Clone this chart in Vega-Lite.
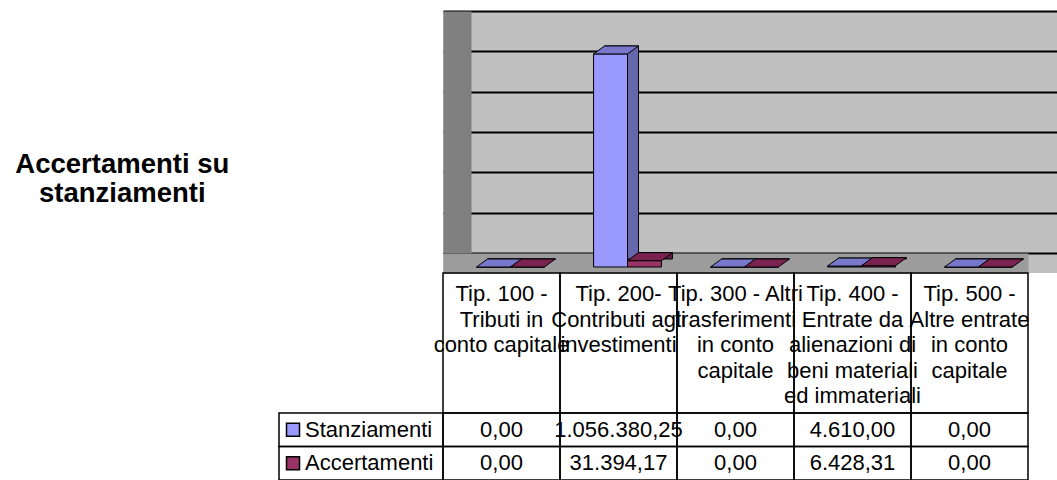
{
  "$schema": "https://vega.github.io/schema/vega-lite/v6.json",
  "width": 614,
  "height": 262,
  "autosize": {"type": "none"},
  "padding": {"left": 443, "top": 11, "right": 0, "bottom": 207},
  "background": "white",
  "config": {
    "locale": {"number": {"decimal": ",", "thousands": ".", "grouping": [3], "currency": ["€", ""]}},
    "view": {"fill": "#C0C0C0", "stroke": null},
    "font": "Liberation Sans"
  },
  "title": {
    "text": ["Accertamenti su", "stanziamenti"],
    "orient": "left",
    "angle": 0,
    "align": "center",
    "baseline": "middle",
    "anchor": "middle",
    "frame": "group",
    "offset": -58,
    "dy": 23,
    "font": "Liberation Sans",
    "fontSize": 27.5,
    "fontWeight": "bold",
    "lineHeight": 29,
    "color": "black"
  },
  "datasets": {
    "bars": [
      {"tip": "Tip. 100 - Tributi in conto capitale", "serie": "Stanziamenti", "valore": 0},
      {"tip": "Tip. 100 - Tributi in conto capitale", "serie": "Accertamenti", "valore": 0},
      {"tip": "Tip. 200- Contributi agli investimenti", "serie": "Stanziamenti", "valore": 1056380.25},
      {"tip": "Tip. 200- Contributi agli investimenti", "serie": "Accertamenti", "valore": 31394.17},
      {"tip": "Tip. 300 - Altri trasferimenti in conto capitale", "serie": "Stanziamenti", "valore": 0},
      {"tip": "Tip. 300 - Altri trasferimenti in conto capitale", "serie": "Accertamenti", "valore": 0},
      {"tip": "Tip. 400 - Entrate da alienazioni di beni materiali ed immateriali", "serie": "Stanziamenti", "valore": 4610.00},
      {"tip": "Tip. 400 - Entrate da alienazioni di beni materiali ed immateriali", "serie": "Accertamenti", "valore": 6428.31},
      {"tip": "Tip. 500 - Altre entrate in conto capitale", "serie": "Stanziamenti", "valore": 0},
      {"tip": "Tip. 500 - Altre entrate in conto capitale", "serie": "Accertamenti", "valore": 0}
    ],
    "header": [
      {"tip": "Tip. 100 - Tributi in conto capitale", "etichetta": "Tip. 100 -\nTributi in\nconto capitale"},
      {"tip": "Tip. 200- Contributi agli investimenti", "etichetta": "Tip. 200-\nContributi agli\ninvestimenti"},
      {"tip": "Tip. 300 - Altri trasferimenti in conto capitale", "etichetta": "Tip. 300 - Altri\ntrasferimenti\nin conto\ncapitale"},
      {"tip": "Tip. 400 - Entrate da alienazioni di beni materiali ed immateriali", "etichetta": "Tip. 400 -\nEntrate da\nalienazioni di\nbeni materiali\ned immateriali"},
      {"tip": "Tip. 500 - Altre entrate in conto capitale", "etichetta": "Tip. 500 -\nAltre entrate\nin conto\ncapitale"}
    ],
    "serie": [
      {"serie": "Stanziamenti"},
      {"serie": "Accertamenti"}
    ]
  },
  "resolve": {
    "scale": {"x": "independent", "y": "independent", "color": "independent"},
    "axis": {"x": "independent", "y": "independent"}
  },
  "layer": [
    {
      "data": {"name": "bars"},
      "mark": {"type": "point", "opacity": 0},
      "encoding": {
        "x": {
          "field": "tip", "type": "nominal",
          "scale": {"type": "band", "domain": ["Tip. 100 - Tributi in conto capitale", "Tip. 200- Contributi agli investimenti", "Tip. 300 - Altri trasferimenti in conto capitale", "Tip. 400 - Entrate da alienazioni di beni materiali ed immateriali", "Tip. 500 - Altre entrate in conto capitale"], "range": [0, 614], "paddingInner": 0, "paddingOuter": 0},
          "axis": null
        },
        "y": {
          "field": "valore", "type": "quantitative",
          "scale": {"domain": [0, 1200000], "range": [242, 0], "nice": false},
          "axis": {"orient": "left", "domain": false, "labels": false, "ticks": false, "grid": true, "gridColor": "#000000", "gridOpacity": 1, "gridWidth": 2, "values": [0, 200000, 400000, 600000, 800000, 1000000, 1200000], "title": null}
        }
      }
    },
    {
      "data": {"name": "bars"},
      "mark": {"type": "point", "opacity": 0},
      "encoding": {
        "x": {
          "field": "tip", "type": "nominal",
          "scale": {"type": "band", "domain": ["Tip. 100 - Tributi in conto capitale", "Tip. 200- Contributi agli investimenti", "Tip. 300 - Altri trasferimenti in conto capitale", "Tip. 400 - Entrate da alienazioni di beni materiali ed immateriali", "Tip. 500 - Altre entrate in conto capitale"], "range": [0, 585], "paddingInner": 0, "paddingOuter": 0},
          "axis": {"orient": "bottom", "offset": -10, "domain": true, "domainColor": "#9C9C9C", "domainWidth": 20, "labels": false, "ticks": false, "grid": false, "title": null}
        },
        "y": {
          "field": "valore", "type": "quantitative",
          "scale": {"domain": [0, 1200000], "range": [242, 0], "nice": false},
          "axis": {"orient": "left", "offset": -14, "domain": true, "domainColor": "#808080", "domainWidth": 28, "labels": false, "ticks": false, "grid": false, "title": null}
        }
      }
    },
    {
      "data": {"name": "bars"},
      "mark": {"type": "bar", "stroke": "black", "strokeWidth": 1},
      "encoding": {
        "x": {
          "field": "tip", "type": "nominal",
          "scale": {"type": "band", "domain": ["Tip. 100 - Tributi in conto capitale", "Tip. 200- Contributi agli investimenti", "Tip. 300 - Altri trasferimenti in conto capitale", "Tip. 400 - Entrate da alienazioni di beni materiali ed immateriali", "Tip. 500 - Altre entrate in conto capitale"], "range": [20, 605], "paddingInner": 0.42, "paddingOuter": 0.21},
          "axis": null
        },
        "xOffset": {
          "field": "serie", "type": "nominal",
          "scale": {"domain": ["Stanziamenti", "Accertamenti"], "paddingInner": 0, "paddingOuter": 0}
        },
        "y": {
          "field": "valore", "type": "quantitative",
          "scale": {"domain": [0, 1200000], "range": [248, 6], "nice": false},
          "axis": null
        },
        "color": {"field": "serie", "type": "nominal", "scale": {"domain": ["Stanziamenti", "Accertamenti"], "range": ["#6666AA", "#66203F"]}, "legend": null}
      }
    },
    {
      "data": {"name": "bars"},
      "encoding": {
        "x": {
          "field": "tip", "type": "nominal",
          "scale": {"type": "band", "domain": ["Tip. 100 - Tributi in conto capitale", "Tip. 200- Contributi agli investimenti", "Tip. 300 - Altri trasferimenti in conto capitale", "Tip. 400 - Entrate da alienazioni di beni materiali ed immateriali", "Tip. 500 - Altre entrate in conto capitale"], "range": [9, 594], "paddingInner": 0.42, "paddingOuter": 0.21},
          "axis": null
        },
        "xOffset": {
          "field": "serie", "type": "nominal",
          "scale": {"domain": ["Stanziamenti", "Accertamenti"], "paddingInner": 0, "paddingOuter": 0}
        },
        "y": {
          "field": "valore", "type": "quantitative",
          "scale": {"domain": [0, 1200000], "range": [256, 14], "nice": false},
          "axis": null
        }
      },
      "resolve": {"scale": {"color": "independent"}},
      "layer": [
        {
          "mark": {"type": "bar", "stroke": "black", "strokeWidth": 1},
          "encoding": {"color": {"field": "serie", "type": "nominal", "scale": {"domain": ["Stanziamenti", "Accertamenti"], "range": ["#9999FF", "#993366"]}, "legend": null}}
        },
        {
          "mark": {"type": "point", "shape": "M-0.607,0L0.607,0L1,-0.286L-0.214,-0.286Z", "size": 3136, "filled": true, "opacity": 1, "stroke": "black", "strokeWidth": 1},
          "encoding": {"color": {"field": "serie", "type": "nominal", "scale": {"domain": ["Stanziamenti", "Accertamenti"], "range": ["#7777CC", "#7A2350"]}, "legend": null}}
        }
      ]
    },
    {
      "data": {"name": "header"},
      "encoding": {
        "x": {
          "field": "tip", "type": "nominal",
          "scale": {"type": "band", "domain": ["Tip. 100 - Tributi in conto capitale", "Tip. 200- Contributi agli investimenti", "Tip. 300 - Altri trasferimenti in conto capitale", "Tip. 400 - Entrate da alienazioni di beni materiali ed immateriali", "Tip. 500 - Altre entrate in conto capitale"], "range": [0, 585], "paddingInner": 0, "paddingOuter": 0},
          "axis": null
        },
        "y": {
          "datum": "head", "type": "nominal",
          "scale": {"type": "band", "domain": ["head"], "range": [262, 402], "paddingInner": 0, "paddingOuter": 0},
          "axis": null
        }
      },
      "layer": [
        {"mark": {"type": "rect", "fill": "transparent", "stroke": "black", "strokeWidth": 1.5}},
        {
          "mark": {"type": "text", "baseline": "top", "align": "center", "lineBreak": "\n", "lineHeight": 25.5, "fontSize": 22, "dy": 11, "color": "black"},
          "encoding": {
            "y": {"datum": "head", "type": "nominal", "bandPosition": 0},
            "text": {"field": "etichetta", "type": "nominal"}
          }
        }
      ]
    },
    {
      "data": {"name": "bars"},
      "encoding": {
        "x": {
          "field": "tip", "type": "nominal",
          "scale": {"type": "band", "domain": ["Tip. 100 - Tributi in conto capitale", "Tip. 200- Contributi agli investimenti", "Tip. 300 - Altri trasferimenti in conto capitale", "Tip. 400 - Entrate da alienazioni di beni materiali ed immateriali", "Tip. 500 - Altre entrate in conto capitale"], "range": [0, 585], "paddingInner": 0, "paddingOuter": 0},
          "axis": null
        },
        "y": {
          "field": "serie", "type": "nominal",
          "scale": {"type": "band", "domain": ["Stanziamenti", "Accertamenti"], "range": [402, 469], "paddingInner": 0, "paddingOuter": 0},
          "axis": null
        }
      },
      "layer": [
        {"mark": {"type": "rect", "fill": "transparent", "stroke": "black", "strokeWidth": 1.5}},
        {
          "mark": {"type": "text", "fontSize": 22, "baseline": "middle", "align": "center", "color": "black"},
          "encoding": {"text": {"field": "valore", "type": "quantitative", "format": ",.2f"}}
        }
      ]
    },
    {
      "data": {"name": "serie"},
      "encoding": {
        "x": {
          "datum": "legenda", "type": "nominal",
          "scale": {"type": "band", "domain": ["legenda"], "range": [-164, 0], "paddingInner": 0, "paddingOuter": 0},
          "axis": null
        },
        "y": {
          "field": "serie", "type": "nominal",
          "scale": {"type": "band", "domain": ["Stanziamenti", "Accertamenti"], "range": [402, 469], "paddingInner": 0, "paddingOuter": 0},
          "axis": null
        }
      },
      "resolve": {"scale": {"color": "independent"}},
      "layer": [
        {"mark": {"type": "rect", "fill": "transparent", "stroke": "black", "strokeWidth": 1.5}},
        {
          "mark": {"type": "point", "shape": "square", "filled": true, "size": 169, "opacity": 1, "stroke": "black", "strokeWidth": 1.5},
          "encoding": {
            "x": {"datum": "legenda", "type": "nominal", "bandPosition": 0.0854},
            "color": {"field": "serie", "type": "nominal", "scale": {"domain": ["Stanziamenti", "Accertamenti"], "range": ["#9999FF", "#993366"]}, "legend": null}
          }
        },
        {
          "mark": {"type": "text", "fontSize": 22, "baseline": "middle", "align": "left", "color": "black"},
          "encoding": {
            "x": {"datum": "legenda", "type": "nominal", "bandPosition": 0.1585},
            "text": {"field": "serie", "type": "nominal"}
          }
        }
      ]
    }
  ]
}
